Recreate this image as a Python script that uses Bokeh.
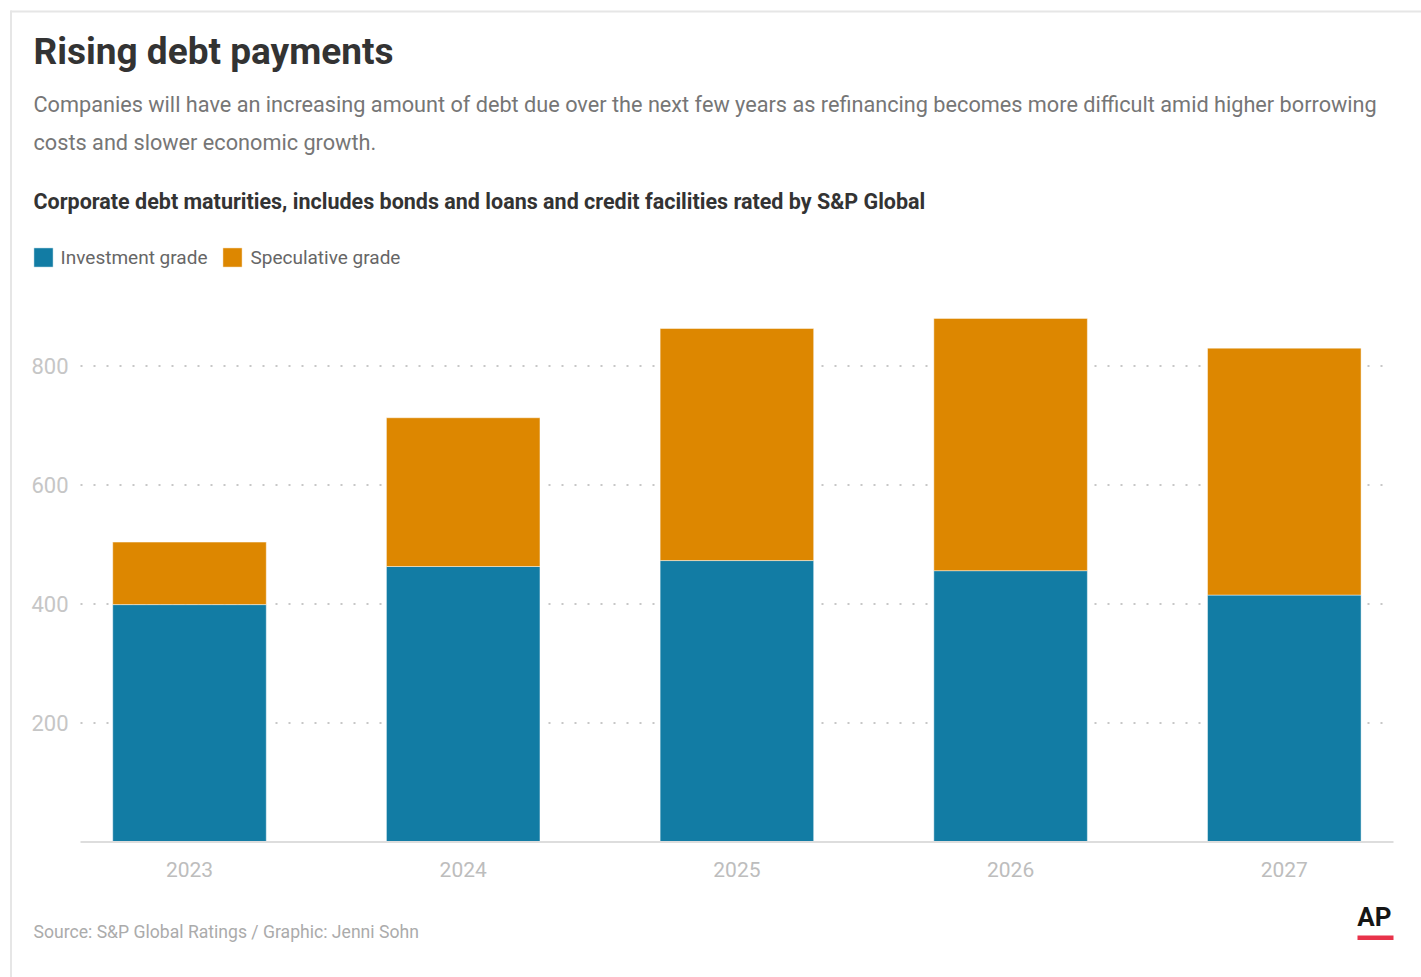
from bokeh.plotting import figure
from bokeh.models import Range1d, Legend, LegendItem, Label
from bokeh.embed import file_html
from bokeh.resources import INLINE

# ---------------- data ----------------
years = ["2023", "2024", "2025", "2026", "2027"]
investment = [399, 463, 473, 456, 415]
speculative = [105, 250, 390, 424, 415]
y_ticks = [200, 400, 600, 800]
y_tick_labels = ["200", "400", "600", "800"]
series_names = ["Investment grade", "Speculative grade"]
series_colors = ["#127ca4", "#dd8700"]

# ---------------- layout constants (page pixels) ----------------
FONT = "Roboto"
W, H = 1421, 977
FL, FR = 80, 1393          # plotting area left / right
Y0_PX = 841.5              # pixel row of value 0
PX_PER_VAL = 0.595         # pixels per value unit
C0_PX, PX_PER_CAT = 189.0, 273.7   # pixel column of first category, spacing
BORDER = "#e6e6e6"

p = figure(width=W, height=H, output_backend="svg", toolbar_location=None,
           x_range=Range1d(0, W), y_range=Range1d(H, 0),
           x_axis_type=None, y_axis_type=None,
           min_border=0, min_border_left=0, min_border_right=0,
           min_border_top=0, min_border_bottom=0)
p.outline_line_color = None
p.background_fill_color = "white"
p.border_fill_color = "white"

# scales for the chart itself
p.extra_x_ranges = {"cat": Range1d(-C0_PX / PX_PER_CAT, (W - C0_PX) / PX_PER_CAT)}
p.extra_y_ranges = {"val": Range1d(-(H - Y0_PX) / PX_PER_VAL, Y0_PX / PX_PER_VAL)}
x_lo = (FL - C0_PX) / PX_PER_CAT
x_hi = (FR - C0_PX) / PX_PER_CAT

xs = list(range(len(years)))
data = dict(x=xs, investment=investment, speculative=speculative)

# dotted horizontal grid
p.segment(x0=[x_lo] * len(y_ticks), x1=[x_hi] * len(y_ticks), y0=y_ticks, y1=y_ticks,
          x_range_name="cat", y_range_name="val",
          line_color="#b5b5b5", line_width=1.6, line_dash="2 11")

rs = p.vbar_stack(["investment", "speculative"], x="x", width=0.561, source=data,
                  color=series_colors, line_color="white", line_alpha=0.45, line_width=1,
                  x_range_name="cat", y_range_name="val")

# baseline (x axis line)
p.segment(x0=[x_lo], x1=[x_hi], y0=[0], y1=[0], x_range_name="cat", y_range_name="val",
          line_color="#dddddd", line_width=2)

# x tick labels
p.text(x=xs, y=[0] * len(xs), text=years, x_range_name="cat", y_range_name="val",
       text_align="center", text_baseline="middle", y_offset=27,
       text_font={"value": FONT}, text_font_size={"value": "21px"}, text_color="#bdbdbd")

# y tick labels
p.text(x=[x_lo] * len(y_ticks), y=y_ticks, text=y_tick_labels,
       x_range_name="cat", y_range_name="val",
       text_align="right", text_baseline="middle", x_offset=-12, y_offset=0,
       text_font={"value": FONT}, text_font_size={"value": "22px"}, text_color="#c6c6c6")

# ---------------- texts ----------------
def lab(text, xp, yp, size, color, style="normal", align="left"):
    p.add_layout(Label(x=xp, y=yp, text=text, text_font=FONT, text_font_size=size,
                       text_color=color, text_font_style=style, text_align=align,
                       text_baseline="middle"))

lab("Rising debt payments", 33, 51, "37px", "#333333", "bold")
lab("Companies will have an increasing amount of debt due over the next few years as refinancing becomes more difficult amid higher borrowing",
    33, 103.5, "21.7px", "#767676")
lab("costs and slower economic growth.", 33, 141.5, "21.7px", "#767676")
lab("Corporate debt maturities, includes bonds and loans and credit facilities rated by S&P Global",
    33, 201, "21.5px", "#333333", "bold")
lab("Source: S&P Global Ratings / Graphic: Jenni Sohn", 33, 931, "17.6px", "#ababab")
lab("AP", 1391, 916, "26px", "#151515", "bold", "right")
p.quad(left=[1357], right=[1393], top=[935], bottom=[939.5], fill_color="#e8334a",
       line_color=None)

# frame border (top and left)
p.line(x=[10, W], y=[11, 11], line_color=BORDER, line_width=2)
p.line(x=[10.5, 10.5], y=[10, H], line_color=BORDER, line_width=2)

# ---------------- legend ----------------
GW = 24   # legend box, drawn with a 10% inset
legend = Legend(items=[LegendItem(label=n, renderers=[r]) for n, r in zip(series_names, rs)],
                orientation="horizontal", location=(33 - GW * 0.1, H - (267 + GW * 0.1)),
                glyph_width=GW, glyph_height=GW, label_standoff=6, spacing=13,
                padding=0, margin=0, border_line_color=None,
                background_fill_alpha=0, label_text_font=FONT,
                label_text_font_size="19px", label_text_color="#666666",
                label_height=GW)
p.add_layout(legend)

open("out.html", "w").write(file_html(p, INLINE))
